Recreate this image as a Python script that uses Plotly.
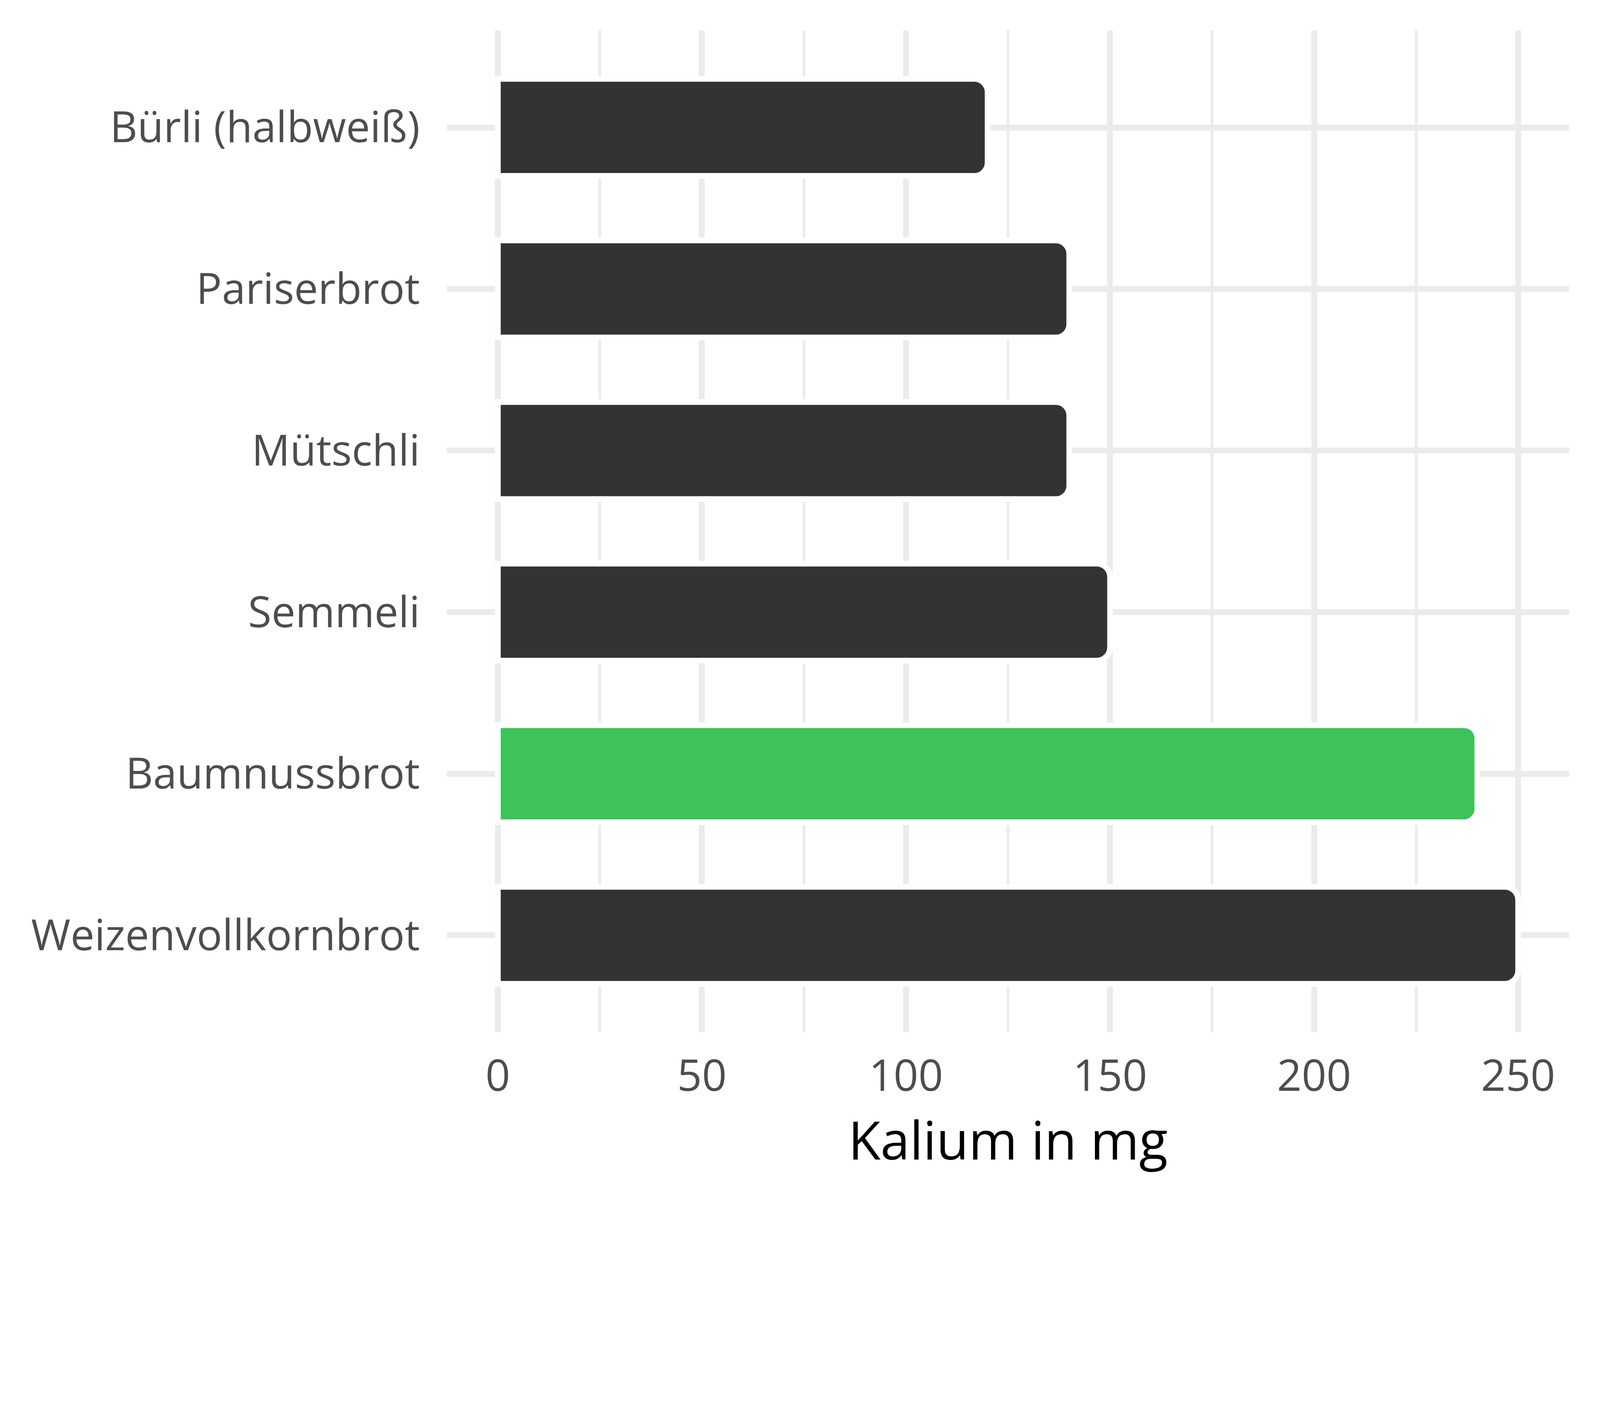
import plotly.graph_objects as go

categories = ["Bürli (halbweiß)", "Pariserbrot", "Mütschli", "Semmeli", "Baumnussbrot", "Weizenvollkornbrot"]
values = [120, 140, 140, 150, 240, 250]
highlight = "Baumnussbrot"
x_ticks = [0, 50, 100, 150, 200, 250]
x_title = "Kalium in mg"

colors = ["#3EC25A" if c == highlight else "#333333" for c in categories]

# the page is photographed at a device scale of 4800/4096
K = 4096 / 4800


def px(v):
    return v * K


fig = go.Figure(
    go.Bar(
        x=values,
        y=categories,
        orientation="h",
        width=0.6,
        marker=dict(color=colors, line=dict(color="white", width=px(17)), cornerradius=px(40)),
        hoverinfo="skip",
    )
)

FONT = "Open Sans"
fig.update_layout(
    width=4096,
    height=3072,
    paper_bgcolor="white",
    plot_bgcolor="white",
    margin=dict(l=px(1341), r=px(92), t=px(91), b=px(503), pad=0),
    showlegend=False,
    font=dict(family=FONT, color="#4D4D4D"),
)
fig.update_xaxes(
    range=[-12.5, 262.5],
    tickvals=x_ticks,
    ticktext=[str(v) for v in x_ticks],
    showgrid=True,
    gridcolor="#EBEBEB",
    gridwidth=px(17),
    zeroline=False,
    showline=False,
    ticks="",
    tickfont=dict(size=px(130), color="#4D4D4D", family=FONT),
    ticklabelstandoff=38,
    minor=dict(dtick=25, tick0=0, showgrid=True, gridcolor="#EBEBEB", gridwidth=px(8.5)),
    title=dict(text=x_title, font=dict(size=px(158), color="black", family=FONT), standoff=27),
)
fig.update_yaxes(
    categoryorder="array",
    categoryarray=categories,
    range=[5.6, -0.6],
    showgrid=True,
    gridcolor="#EBEBEB",
    gridwidth=px(17),
    zeroline=False,
    showline=False,
    ticks="",
    tickfont=dict(size=px(128), color="#4D4D4D", family=FONT),
    ticklabelstandoff=68,
)

fig.write_html(
    "out.html",
    config={"displayModeBar": False},
    post_script="document.body.style.margin='0';",
)
